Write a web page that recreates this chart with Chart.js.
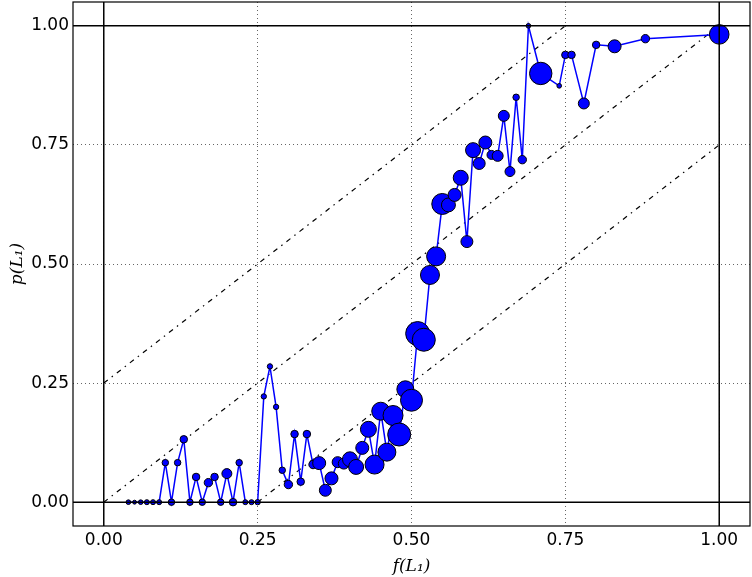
<!DOCTYPE html>
<html>
<head>
<meta charset="utf-8">
<script src="https://cdn.jsdelivr.net/npm/chart.js@4.4.1/dist/chart.umd.min.js"></script>
<style>
  html, body { margin: 0; padding: 0; background: #fff; }
  #wrap { width: 752px; height: 577px; }
</style>
</head>
<body>
<div id="wrap"><canvas id="chart" width="752" height="577"></canvas></div>
<script>
// --- data ---
const fValues = [
  0.04, 0.05, 0.06, 0.07, 0.08, 0.09, 0.10, 0.11, 0.12, 0.13,
  0.14, 0.15, 0.16, 0.17, 0.18, 0.19, 0.20, 0.21, 0.22, 0.23,
  0.24, 0.25, 0.26, 0.27, 0.28, 0.29, 0.30, 0.31, 0.32, 0.33,
  0.34, 0.35, 0.36, 0.37, 0.38, 0.39, 0.40, 0.41, 0.42, 0.43,
  0.44, 0.45, 0.46, 0.47, 0.48, 0.49, 0.50, 0.51, 0.52, 0.53,
  0.54, 0.55, 0.56, 0.57, 0.58, 0.59, 0.60, 0.61, 0.62, 0.63,
  0.64, 0.65, 0.66, 0.67, 0.68, 0.69, 0.71, 0.74, 0.75, 0.76,
  0.78, 0.80, 0.83, 0.88, 1.00
];
const pValues = [
  0, 0, 0, 0, 0, 0, 0.083, 0, 0.083, 0.132,
  0, 0.053, 0, 0.041, 0.053, 0, 0.060, 0, 0.083, 0,
  0, 0, 0.222, 0.285, 0.200, 0.067, 0.037, 0.143, 0.043, 0.143,
  0.079, 0.082, 0.025, 0.050, 0.084, 0.081, 0.090, 0.074, 0.114, 0.153,
  0.079, 0.191, 0.105, 0.182, 0.142, 0.237, 0.214, 0.354, 0.341, 0.477,
  0.516, 0.626, 0.624, 0.645, 0.681, 0.547, 0.739, 0.711, 0.755, 0.729,
  0.727, 0.811, 0.694, 0.850, 0.719, 1.000, 0.900, 0.874, 0.939, 0.939,
  0.837, 0.960, 0.957, 0.973, 0.982
];
// relative marker area (bin weight)
const binWeight = [
  8, 6, 8, 9, 9, 9, 14, 14, 14, 18,
  14, 18, 14, 22, 18, 14, 30, 18, 14, 9,
  9, 10, 10, 10, 10, 14, 22, 18, 18, 18,
  22, 49, 42, 49, 36, 36, 64, 64, 49, 72,
  100, 90, 90, 110, 144, 81, 132, 156, 144, 100,
  100, 121, 56, 49, 64, 42, 64, 42, 49, 25,
  36, 36, 30, 14, 22, 8, 137, 8, 18, 18,
  36, 18, 49, 22, 106
];
const tickValues = [0, 0.25, 0.5, 0.75, 1];
const axisRange = [-0.05, 1.05];
const refLevels = [0, 1];
const diagonalOffsets = [0.25, 0, -0.25];

// --- build datasets ---
const points = fValues.map((f, i) => ({ x: f, y: pValues[i] }));
const radii = binWeight.map(w => Math.sqrt(w) - 0.5);

const datasets = [];

// solid reference lines at 0 and 1 (drawn on top)
refLevels.forEach(v => {
    datasets.push({
        data: [{ x: axisRange[0], y: v }, { x: axisRange[1], y: v }],
        borderColor: '#000', borderWidth: 1.5, pointRadius: 0, order: 0
    });
    datasets.push({
        data: [{ x: v, y: axisRange[0] }, { x: v, y: axisRange[1] }],
        borderColor: '#000', borderWidth: 1.5, pointRadius: 0, order: 0
    });
});

// main series
datasets.push({
    data: points,
    borderColor: '#0000ff',
    borderWidth: 1.5,
    pointBackgroundColor: '#0000ff',
    pointBorderColor: '#000',
    pointBorderWidth: 1,
    pointRadius: radii,
    order: 1
});

// dash-dot diagonals y = x + c, kept inside the unit square
diagonalOffsets.forEach(c => {
    datasets.push({
        data: [
            { x: Math.max(0, -c), y: Math.max(0, c) },
            { x: Math.min(1, 1 - c), y: Math.min(1, 1 + c) }
        ],
        borderColor: '#000', borderWidth: 1.2, borderDash: [5, 5, 1.5, 5],
        pointRadius: 0, order: 2
    });
});

// frame around the plot area
const framePlugin = {
    id: 'frame',
    afterDraw(chart) {
        const { ctx, chartArea: a } = chart;
        ctx.save();
        ctx.strokeStyle = '#000';
        ctx.lineWidth = 1.2;
        ctx.strokeRect(a.left, a.top, a.right - a.left, a.bottom - a.top);
        ctx.restore();
    }
};

// no extra padding from the scales, we place the plot area ourselves
function clearPadding(s) {
    s.paddingLeft = 0; s.paddingRight = 0;
    s.paddingTop = 0; s.paddingBottom = 0;
}

const tickFont = { family: 'DejaVu Sans', size: 17 };
const titleFont = { family: 'DejaVu Serif', size: 17, style: 'italic' };
const gridOpts = { color: 'rgba(0,0,0,0.6)', lineWidth: 1, drawTicks: false };

new Chart(document.getElementById('chart'), {
    type: 'scatter',
    data: { datasets },
    options: {
        responsive: false,
        animation: false,
        showLine: true,
        layout: { autoPadding: false, padding: { top: 2, right: 2, left: 0, bottom: 0 } },
        plugins: { legend: { display: false }, tooltip: { enabled: false } },
        scales: {
            x: {
                type: 'linear',
                min: axisRange[0], max: axisRange[1],
                afterBuildTicks: s => { s.ticks = tickValues.map(v => ({ value: v })); },
                afterFit: s => { s.height = 51; clearPadding(s); },
                grid: gridOpts,
                border: { display: false, dash: [1, 3] },
                ticks: { color: '#000', font: tickFont, padding: 4, maxRotation: 0,
                         callback: v => v.toFixed(2) },
                title: { display: true, text: 'f(L\u2081)', color: '#000', font: titleFont,
                         padding: { top: 0, bottom: 0 } }
            },
            y: {
                type: 'linear',
                min: axisRange[0], max: axisRange[1],
                afterBuildTicks: s => { s.ticks = tickValues.map(v => ({ value: v })); },
                afterFit: s => { s.width = 73; clearPadding(s); },
                grid: gridOpts,
                border: { display: false, dash: [1, 3] },
                ticks: { color: '#000', font: tickFont, padding: 4,
                         callback: v => v.toFixed(2) },
                title: { display: true, text: 'p(L\u2081)', color: '#000', font: titleFont,
                         padding: { top: 7, bottom: 0 } }
            }
        }
    },
    plugins: [framePlugin]
});
</script>
</body>
</html>
